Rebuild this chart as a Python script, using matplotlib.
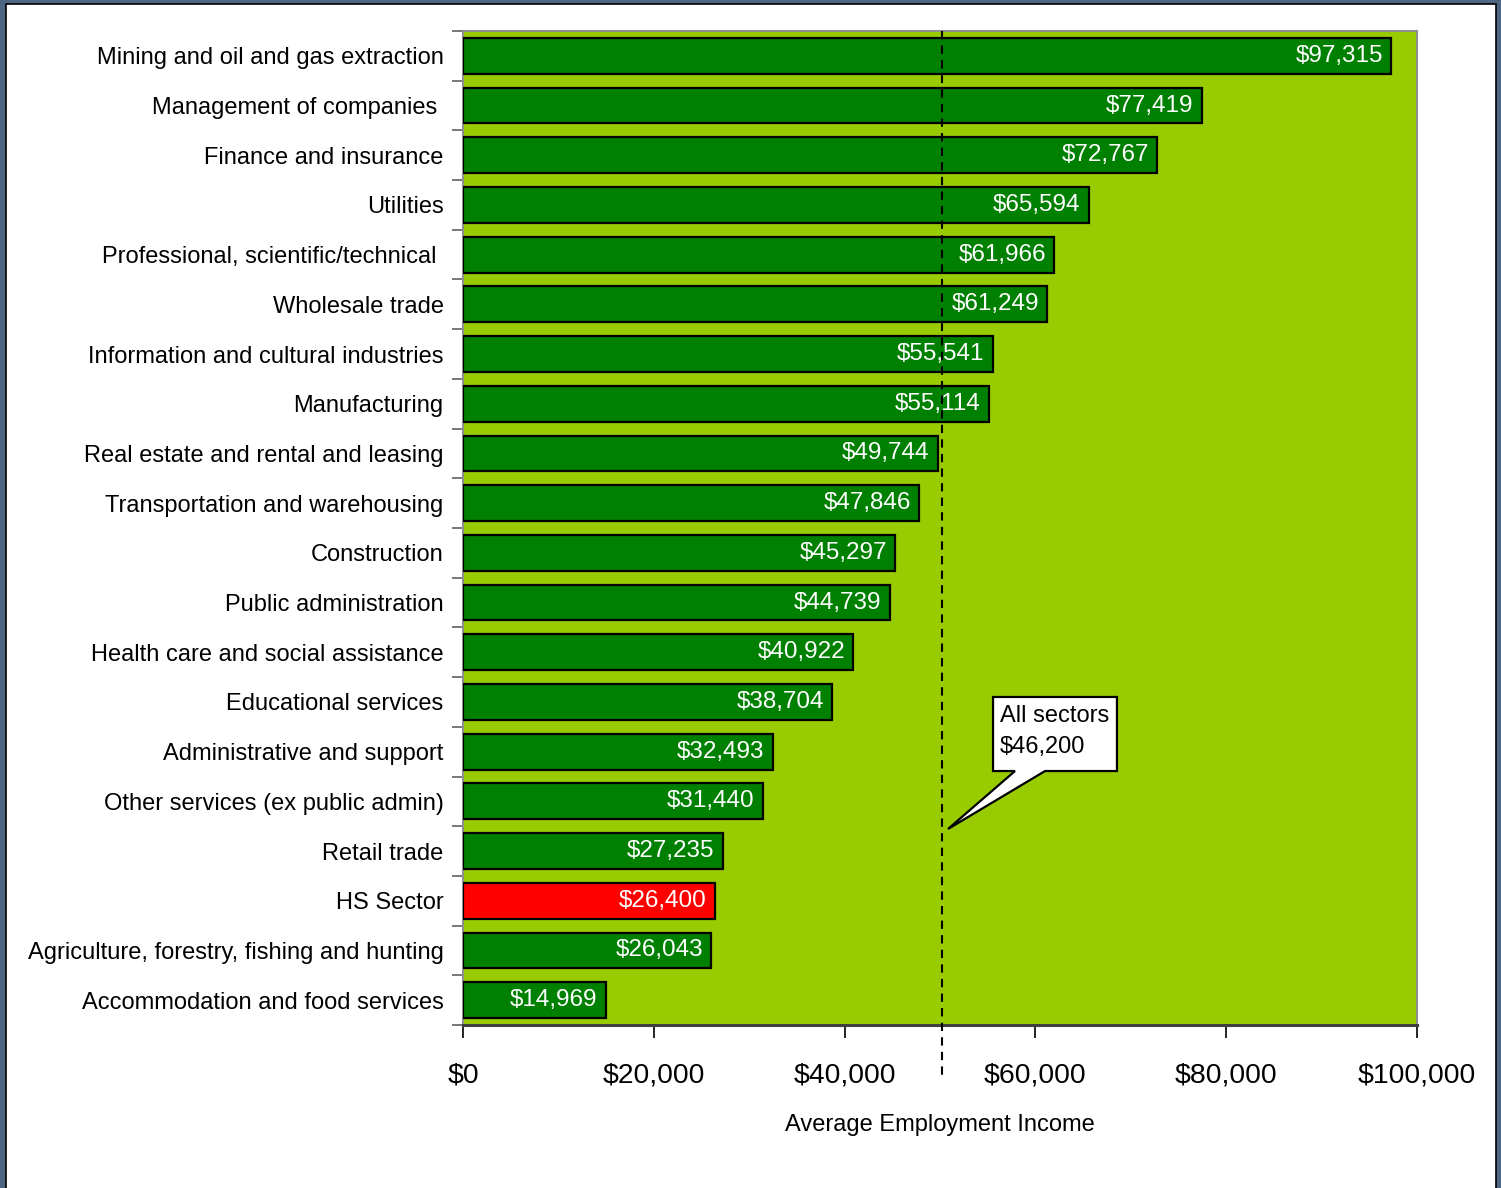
import matplotlib
matplotlib.use("Agg")
import matplotlib.pyplot as plt
from matplotlib.patches import Rectangle, Polygon
from matplotlib.ticker import FixedLocator, FuncFormatter
import matplotlib.transforms as mtransforms

plt.rcParams['font.family'] = ['Liberation Sans', 'DejaVu Sans']

categories = [
    "Mining and oil and gas extraction",
    "Management of companies ",
    "Finance and insurance",
    "Utilities",
    "Professional, scientific/technical ",
    "Wholesale trade",
    "Information and cultural industries",
    "Manufacturing",
    "Real estate and rental and leasing",
    "Transportation and warehousing",
    "Construction",
    "Public administration",
    "Health care and social assistance",
    "Educational services",
    "Administrative and support",
    "Other services (ex public admin)",
    "Retail trade",
    "HS Sector",
    "Agriculture, forestry, fishing and hunting",
    "Accommodation and food services",
]
values = [97315, 77419, 72767, 65594, 61966, 61249, 55541, 55114, 49744, 47846,
          45297, 44739, 40922, 38704, 32493, 31440, 27235, 26400, 26043, 14969]
highlight = "HS Sector"
x_ticks = [0, 20000, 40000, 60000, 80000, 100000]
all_sectors_label = "All sectors\n$46,200"
all_sectors_line = 50200
x_label = "Average Employment Income"

W, H = 1501, 1188
fig = plt.figure(figsize=(W / 100, H / 100), dpi=100)
fig.patch.set_facecolor('#4D6682')
# white inner panel with thin black border
fig.patches.append(Rectangle((6 / W, -0.01), (1496 - 6) / W, (H - 4) / H + 0.01,
                             transform=fig.transFigure, facecolor='white',
                             edgecolor='black', linewidth=1.2, zorder=-10))

ax = fig.add_axes([463 / W, 1 - 1025 / H, (1417 - 463) / W, (1025 - 31) / H])
ax.set_facecolor('#99CC00')

n = len(categories)
ypos = list(range(n))
colors = ['#FF0000' if c == highlight else '#008000' for c in categories]
bars = ax.barh(ypos, values, height=0.72, color=colors, edgecolor='black',
               linewidth=1.6, zorder=3)
ax.set_ylim(n - 0.5, -0.5)
ax.set_xlim(0, 100000)

for b, v in zip(bars, values):
    ax.annotate(f"${v:,}", (v, b.get_y() + b.get_height() / 2),
                xytext=(-6, 0), textcoords='offset points', ha='right',
                va='center', color='white', fontsize=17.5, zorder=5)

ax.set_yticks(ypos)
ax.set_yticklabels(categories, fontsize=17)
ax.yaxis.set_minor_locator(FixedLocator([i - 0.5 for i in range(n + 1)]))
ax.tick_params(axis='y', which='major', length=0, pad=14)
ax.tick_params(axis='y', which='minor', length=8, color='#606060', width=1.2)

ax.set_xticks(x_ticks)
ax.xaxis.set_major_formatter(FuncFormatter(lambda v, p: f"${int(v):,}"))
ax.tick_params(axis='x', which='major', length=9, width=1.2, color='black',
               labelsize=20.4, pad=18)
ax.set_xlabel(x_label, fontsize=17, labelpad=18)

for s in ['top', 'right', 'left']:
    ax.spines[s].set_color('#909090')
    ax.spines[s].set_linewidth(1.5)
ax.spines['bottom'].set_color('#404040')
ax.spines['bottom'].set_linewidth(2.2)

# dashed average line, extending below the axis
trans = mtransforms.blended_transform_factory(ax.transData, ax.transAxes)
ax.plot([all_sectors_line, all_sectors_line], [1.0, -0.05], transform=trans,
        color='black', linestyle=(0, (4, 3)), linewidth=1.5, clip_on=False,
        zorder=6)

# callout box with tail
callout = [(0.5556, 0.330), (0.6855, 0.330), (0.6855, 0.2555), (0.6101, 0.2555),
           (0.5084, 0.1972), (0.5786, 0.2555), (0.5556, 0.2555)]
ax.add_patch(Polygon(callout, closed=True, transform=ax.transAxes,
                     facecolor='white', edgecolor='black', linewidth=1.6,
                     zorder=7))
ax.text(0.5629, 0.322, all_sectors_label, transform=ax.transAxes, ha='left',
        va='top', fontsize=17, linespacing=1.55, zorder=8)

fig.savefig("out.png", dpi=100)
